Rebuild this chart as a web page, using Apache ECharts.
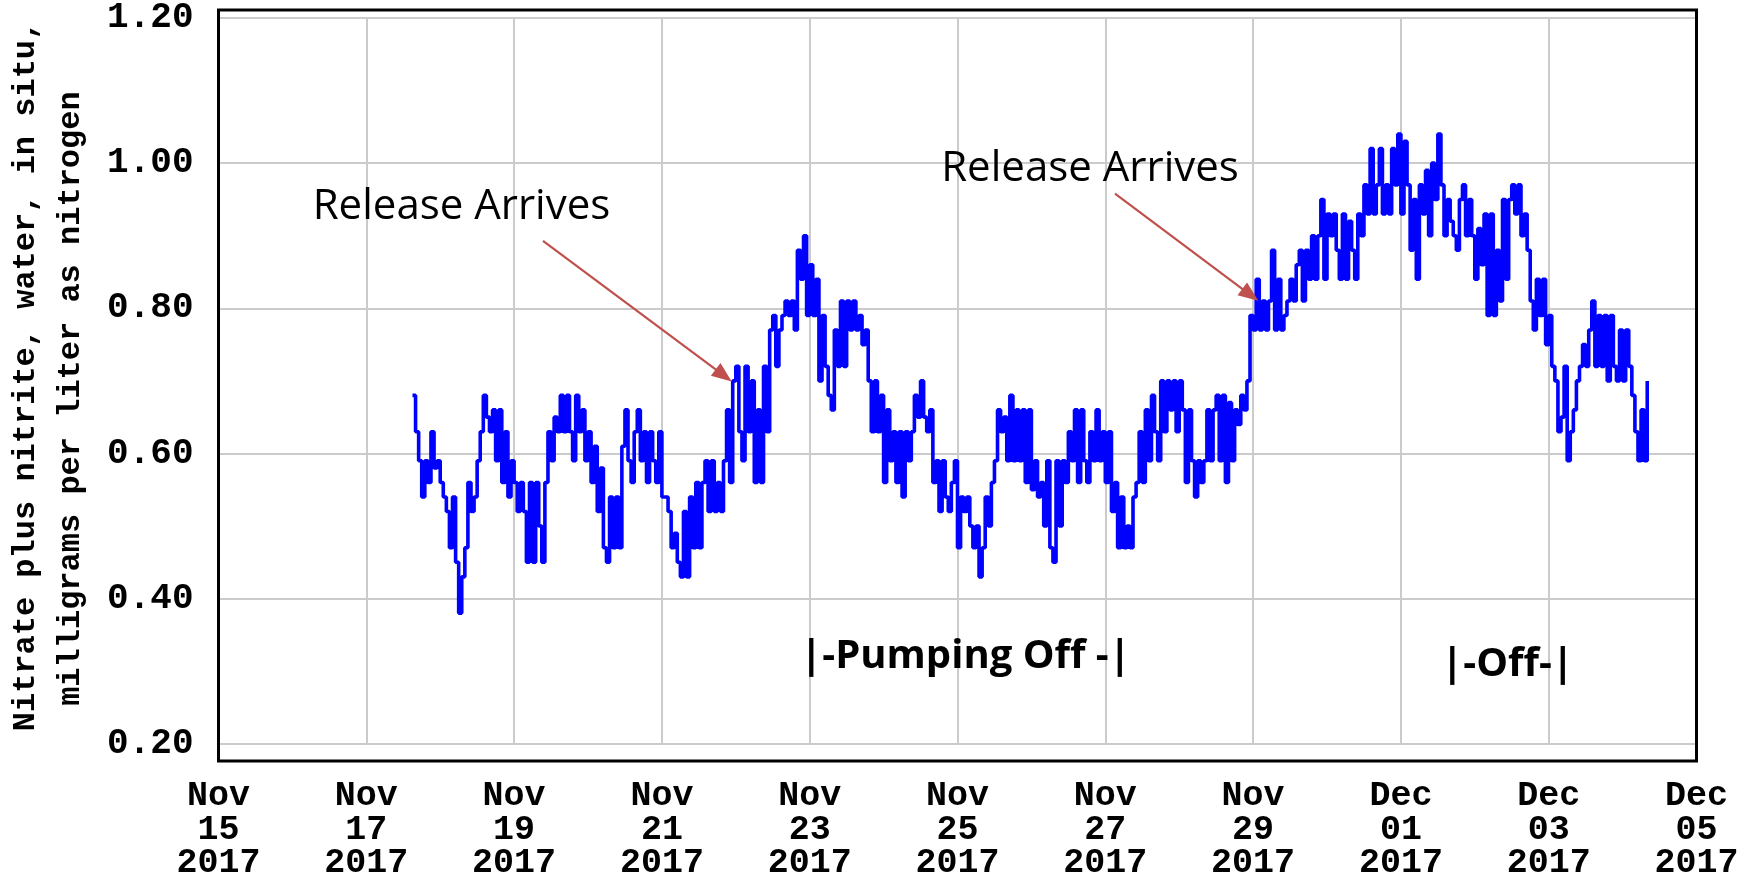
<!DOCTYPE html>
<html>
<head>
<meta charset="utf-8">
<script src="https://cdn.jsdelivr.net/npm/echarts@6/dist/echarts.min.js"></script>
<style>
  html, body { margin: 0; padding: 0; background: #ffffff; }
  #chart { width: 1748px; height: 881px; }
</style>
</head>
<body>
<div id="chart"></div>
<script>
// Hourly nitrate + nitrite readings (mg/L as N), starting Nov 17 2017 15:00
const HOUR = 3600 * 1000;
const axisOrigin = Date.UTC(2017, 10, 15);        // Nov 15 2017 00:00, left edge of the axis
const firstReading = Date.UTC(2017, 10, 17, 15);  // time of the first reading
const nitrate = [
  0.68, 0.63, 0.59, 0.54, 0.59, 0.56, 0.63, 0.58, 0.59, 0.56,
  0.54, 0.52, 0.47, 0.54, 0.45, 0.38, 0.43, 0.47, 0.56, 0.52,
  0.54, 0.59, 0.63, 0.68, 0.65, 0.63, 0.66, 0.59, 0.66, 0.56,
  0.63, 0.54, 0.59, 0.56, 0.52, 0.56, 0.52, 0.45, 0.56, 0.45,
  0.56, 0.50, 0.45, 0.56, 0.63, 0.59, 0.65, 0.63, 0.68, 0.63,
  0.68, 0.63, 0.59, 0.68, 0.63, 0.66, 0.59, 0.63, 0.56, 0.61,
  0.52, 0.58, 0.47, 0.45, 0.54, 0.47, 0.54, 0.47, 0.61, 0.66,
  0.59, 0.56, 0.63, 0.66, 0.59, 0.63, 0.56, 0.63, 0.59, 0.56,
  0.63, 0.54, 0.54, 0.52, 0.47, 0.49, 0.45, 0.43, 0.52, 0.43,
  0.54, 0.47, 0.56, 0.47, 0.56, 0.59, 0.52, 0.59, 0.52, 0.56,
  0.52, 0.59, 0.66, 0.56, 0.70, 0.72, 0.63, 0.59, 0.72, 0.63,
  0.70, 0.56, 0.66, 0.56, 0.72, 0.63, 0.77, 0.79, 0.72, 0.77,
  0.79, 0.81, 0.79, 0.81, 0.77, 0.88, 0.84, 0.90, 0.79, 0.86,
  0.79, 0.84, 0.70, 0.79, 0.72, 0.68, 0.66, 0.77, 0.72, 0.81,
  0.72, 0.81, 0.77, 0.81, 0.77, 0.79, 0.75, 0.77, 0.70, 0.63,
  0.70, 0.63, 0.68, 0.56, 0.66, 0.59, 0.63, 0.56, 0.63, 0.54,
  0.63, 0.59, 0.63, 0.68, 0.65, 0.70, 0.65, 0.63, 0.66, 0.56,
  0.59, 0.52, 0.59, 0.54, 0.52, 0.56, 0.59, 0.47, 0.54, 0.52,
  0.54, 0.50, 0.47, 0.50, 0.43, 0.47, 0.54, 0.50, 0.56, 0.59,
  0.66, 0.63, 0.65, 0.59, 0.68, 0.59, 0.66, 0.59, 0.66, 0.56,
  0.66, 0.55, 0.59, 0.54, 0.56, 0.50, 0.59, 0.47, 0.45, 0.59,
  0.50, 0.59, 0.56, 0.63, 0.59, 0.66, 0.56, 0.66, 0.59, 0.56,
  0.63, 0.59, 0.66, 0.59, 0.63, 0.56, 0.63, 0.52, 0.56, 0.47,
  0.54, 0.47, 0.50, 0.47, 0.54, 0.56, 0.63, 0.56, 0.66, 0.59,
  0.68, 0.63, 0.59, 0.70, 0.63, 0.70, 0.66, 0.70, 0.63, 0.70,
  0.66, 0.56, 0.66, 0.59, 0.54, 0.59, 0.56, 0.59, 0.66, 0.59,
  0.66, 0.68, 0.59, 0.68, 0.56, 0.67, 0.59, 0.66, 0.64, 0.68,
  0.66, 0.70, 0.79, 0.77, 0.84, 0.77, 0.81, 0.77, 0.81, 0.88,
  0.77, 0.84, 0.77, 0.79, 0.81, 0.84, 0.81, 0.86, 0.88, 0.81,
  0.88, 0.84, 0.90, 0.84, 0.90, 0.95, 0.84, 0.93, 0.90, 0.93,
  0.88, 0.84, 0.93, 0.84, 0.92, 0.88, 0.84, 0.93, 0.90, 0.97,
  0.93, 1.02, 0.93, 0.97, 1.02, 0.93, 0.97, 0.93, 1.02, 0.97,
  1.04, 0.93, 1.03, 0.97, 0.88, 0.95, 0.84, 0.97, 0.93, 0.99,
  0.90, 1.00, 0.95, 1.04, 0.97, 0.90, 0.95, 0.92, 0.90, 0.88,
  0.95, 0.97, 0.90, 0.95, 0.90, 0.84, 0.91, 0.86, 0.93, 0.79,
  0.93, 0.79, 0.88, 0.81, 0.95, 0.84, 0.95, 0.97, 0.93, 0.97,
  0.90, 0.93, 0.88, 0.81, 0.77, 0.84, 0.79, 0.84, 0.75, 0.79,
  0.72, 0.70, 0.63, 0.65, 0.72, 0.59, 0.63, 0.66, 0.70, 0.72,
  0.75, 0.72, 0.77, 0.81, 0.72, 0.79, 0.72, 0.79, 0.70, 0.79,
  0.72, 0.70, 0.77, 0.70, 0.77, 0.72, 0.68, 0.63, 0.59, 0.66,
  0.59, 0.70
];

// Axis ranges (x in hours from Nov 15 00:00)
const xRange = [0, 480, 48];      // min, max, tick step (2 days)
const yRange = [0.2, 1.2, 0.2];   // min, max, tick step
const monthNames = ['Jan', 'Feb', 'Mar', 'Apr', 'May', 'Jun', 'Jul', 'Aug', 'Sep', 'Oct', 'Nov', 'Dec'];

const yTitleLines = ['Nitrate plus nitrite, water, in situ,', 'milligrams per liter as nitrogen'];

// Annotation anchors in data space: [time, value]
const arrowTails = [[Date.UTC(2017, 10, 19, 9, 23), 0.893], [Date.UTC(2017, 10, 27, 3, 9), 0.958]];
const arrowHeads = [[Date.UTC(2017, 10, 21, 20, 4), 0.7075], [Date.UTC(2017, 10, 28, 23, 5), 0.8185]];
const releaseLabels = [
  ['Release Arrives', Date.UTC(2017, 10, 18, 6, 55), 0.939],
  ['Release Arrives', Date.UTC(2017, 10, 26, 19, 2), 0.992]
];
const pumpingLabels = [
  ['|-Pumping Off -|', Date.UTC(2017, 10, 25, 2, 36), 0.320],
  ['|-Off-|', Date.UTC(2017, 11, 2, 10, 38), 0.309]
];

const hrs = t => (t - axisOrigin) / HOUR;
const firstHour = hrs(firstReading);
const seriesData = nitrate.map((v, i) => [firstHour + i, v]);

const pad2 = n => (n < 10 ? '0' : '') + n;
const dateLabel = h => {
  const d = new Date(axisOrigin + h * HOUR);
  return monthNames[d.getUTCMonth()] + '\n' + pad2(d.getUTCDate()) + '\n' + d.getUTCFullYear();
};

const monoFont = '"Liberation Mono", "DejaVu Sans Mono", monospace';
const textFont = '"Open Sans", "Noto Sans", sans-serif';
const arrowColor = '#c0504d';

const chart = echarts.init(document.getElementById('chart'), null, { renderer: 'canvas' });

const option = {
  animation: false,
  backgroundColor: '#ffffff',
  grid: { left: 218.5, right: 51.5, top: 17.7, bottom: 126.3, containLabel: false },
  xAxis: {
    type: 'value',
    min: xRange[0], max: xRange[1], interval: xRange[2],
    axisLine: { show: false },
    axisTick: { show: false },
    splitLine: { show: true, lineStyle: { color: '#cbcbcb', width: 2 } },
    axisLabel: {
      formatter: dateLabel,
      margin: 36,
      color: '#000000',
      fontFamily: monoFont,
      fontWeight: 'bold',
      fontSize: 35,
      lineHeight: 33.5,
      align: 'center',
      showMinLabel: true, showMaxLabel: true
    }
  },
  yAxis: {
    type: 'value',
    min: yRange[0], max: yRange[1], interval: yRange[2],
    axisLine: { show: false },
    axisTick: { show: false },
    splitLine: { show: true, lineStyle: { color: '#cbcbcb', width: 2 } },
    axisLabel: {
      formatter: v => v.toFixed(2),
      margin: 25,
      padding: [6, 0, 0, 0],
      color: '#000000',
      fontFamily: monoFont,
      fontWeight: 'bold',
      fontSize: 36
    }
  },
  series: [{
    type: 'line',
    data: seriesData,
    step: 'end',
    showSymbol: false,
    symbol: 'none',
    sampling: null,
    lineStyle: { color: '#0000ff', width: 3.6 },
    itemStyle: { color: '#0000ff' },
    markLine: {
      silent: true,
      symbol: ['none', 'triangle'],
      symbolSize: 20,
      label: { show: false },
      lineStyle: { color: arrowColor, width: 2.2, type: 'solid' },
      itemStyle: { color: arrowColor },
      emphasis: { disabled: true },
      data: arrowTails.map((tail, k) => [
        { coord: [hrs(tail[0]), tail[1]], symbol: 'none' },
        { coord: [hrs(arrowHeads[k][0]), arrowHeads[k][1]], symbol: 'triangle', symbolSize: [16, 20] }
      ])
    },
    markPoint: {
      silent: true,
      symbol: 'circle',
      symbolSize: 0,
      data: releaseLabels.map(([text, t, v]) => ({
        coord: [hrs(t), v],
        label: {
          show: true, position: 'inside', formatter: text,
          color: '#000000', fontFamily: textFont, fontSize: 42, fontWeight: 'normal'
        }
      })).concat(pumpingLabels.map(([text, t, v]) => ({
        coord: [hrs(t), v],
        label: {
          show: true, position: 'inside', formatter: text,
          color: '#000000', fontFamily: textFont, fontSize: 40, fontWeight: 'bold'
        }
      })))
    }
  }],
  graphic: [
    {
      type: 'rect', silent: true, z: 100,
      shape: { x: 218.5, y: 10, width: 1478, height: 751 },
      style: { fill: 'none', stroke: '#000000', lineWidth: 3 }
    },
    {
      type: 'text', silent: true, rotation: Math.PI / 2, x: 25.6, y: 376,
      style: {
        text: yTitleLines[0], align: 'center', verticalAlign: 'middle',
        font: 'bold 32px ' + monoFont, fill: '#000000'
      }
    },
    {
      type: 'text', silent: true, rotation: Math.PI / 2, x: 71.3, y: 398.6,
      style: {
        text: yTitleLines[1], align: 'center', verticalAlign: 'middle',
        font: 'bold 32px ' + monoFont, fill: '#000000'
      }
    }
  ]
};

chart.setOption(option);
</script>
</body>
</html>
